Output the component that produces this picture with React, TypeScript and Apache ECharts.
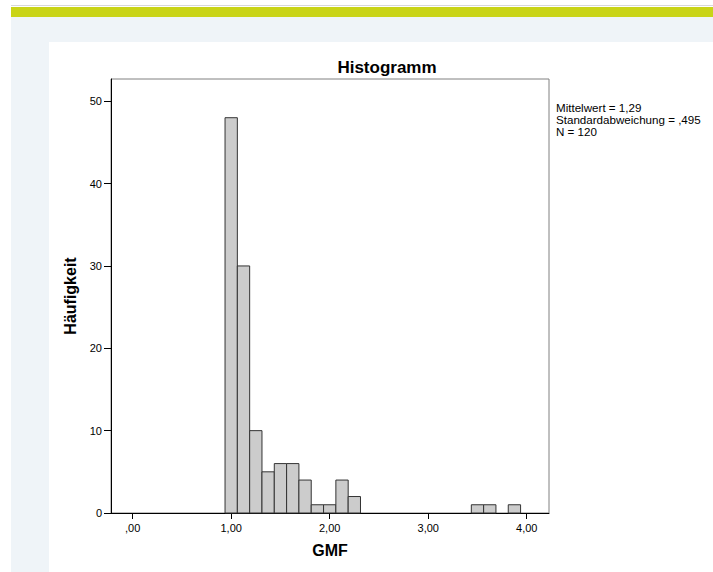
import React, { useEffect, useRef } from "react";
import * as echarts from "echarts";

// Histogram data (bin width 0.125)
const binWidth = 0.125;
const binStarts = [0.9375, 1.0625, 1.1875, 1.3125, 1.4375, 1.5625, 1.6875, 1.8125, 1.9375, 2.0625, 2.1875, 3.4375, 3.5625, 3.8125];
const counts = [48, 30, 10, 5, 6, 6, 4, 1, 1, 4, 2, 1, 1, 1];

const xTickValues = [0, 1, 2, 3, 4];
const xTickLabels = [",00", "1,00", "2,00", "3,00", "4,00"];
const yTickValues = [0, 10, 20, 30, 40, 50];
const yTickLabels = ["0", "10", "20", "30", "40", "50"];

const statsLines = ["Mittelwert = 1,29", "Standardabweichung = ,495", "N = 120"];

const FONT = "Liberation Sans, Arial, sans-serif";

export default function App() {
  const ref = useRef<HTMLDivElement>(null);
  useEffect(() => {
    if (!ref.current) return;
    const chart = echarts.init(ref.current, null, { renderer: "svg" });
    const data = binStarts.map((s, i) => [s, s + binWidth, counts[i]]);
    chart.setOption({
      animation: false,
      backgroundColor: "#ffffff",
      textStyle: { fontFamily: FONT },
      title: {
        text: "Histogramm",
        left: 382,
        top: 54,
        textAlign: "center",
        textStyle: { fontSize: 17, fontWeight: "bold", color: "#000", fontFamily: FONT },
      },
      graphic: [
        { type: "rect", z: -10, shape: { x: 11, y: 5, width: 702, height: 1 }, style: { fill: "#d8d8d8" } },
        { type: "rect", z: -10, shape: { x: 11, y: 7, width: 702, height: 10 }, style: { fill: "#c9d417" } },
        { type: "rect", z: -10, shape: { x: 11, y: 17, width: 702, height: 555 }, style: { fill: "#eff4f8" } },
        { type: "rect", z: -9, shape: { x: 49, y: 42, width: 664, height: 530 }, style: { fill: "#ffffff" } },
        {
          type: "text",
          left: 556,
          top: 101,
          style: {
            text: statsLines.join("\n"),
            fontSize: 11.6,
            lineHeight: 12,
            fill: "#000",
            fontFamily: FONT,
          },
        },
      ],
      grid: {
        left: 111,
        top: 79,
        right: 164,
        bottom: 59,
        show: true,
        borderColor: "#808080",
        borderWidth: 1,
        backgroundColor: "transparent",
      },
      xAxis: {
        type: "value",
        min: -0.22,
        max: 4.226,
        name: "GMF",
        nameLocation: "middle",
        nameGap: 29,
        nameTextStyle: { fontSize: 16, fontWeight: "bold", color: "#000", fontFamily: FONT },
        axisLine: { show: true, onZero: false, lineStyle: { color: "#000", width: 1 } },
        axisTick: { show: true, inside: false, length: 6, lineStyle: { color: "#000" }, customValues: xTickValues },
        axisLabel: {
          customValues: xTickValues,
          formatter: (v: number) => {
            const i = xTickValues.indexOf(Math.round(v));
            return i >= 0 ? xTickLabels[i] : "";
          },
          fontSize: 11,
          color: "#000",
          margin: 9,
          fontFamily: FONT,
        },
        splitLine: { show: false },
      },
      yAxis: {
        type: "value",
        min: 0,
        max: 52.7,
        name: "Häufigkeit",
        nameLocation: "middle",
        nameGap: 26,
        nameTextStyle: { fontSize: 16, fontWeight: "bold", color: "#000", fontFamily: FONT },
        axisLine: { show: true, onZero: false, lineStyle: { color: "#000", width: 1 } },
        axisTick: { show: true, inside: false, length: 7, lineStyle: { color: "#000" }, customValues: yTickValues },
        axisLabel: {
          customValues: yTickValues,
          formatter: (v: number) => {
            const i = yTickValues.indexOf(Math.round(v));
            return i >= 0 ? yTickLabels[i] : "";
          },
          fontSize: 11,
          color: "#000",
          margin: 9,
          fontFamily: FONT,
        },
        splitLine: { show: false },
      },
      series: [
        {
          type: "custom",
          data,
          encode: { x: [0, 1], y: 2 },
          renderItem: (params: any, api: any) => {
            const p0 = api.coord([api.value(0), 0]);
            const p1 = api.coord([api.value(1), api.value(2)]);
            return {
              type: "rect",
              shape: { x: p0[0], y: p1[1], width: p1[0] - p0[0], height: p0[1] - p1[1] },
              style: { fill: "#cccccc", stroke: "#333333", lineWidth: 1 },
            };
          },
        },
      ],
    });
    return () => chart.dispose();
  }, []);
  return (
    <div
      ref={ref}
      style={{ position: "absolute", left: 0, top: 0, width: 713, height: 572 }}
    />
  );
}
